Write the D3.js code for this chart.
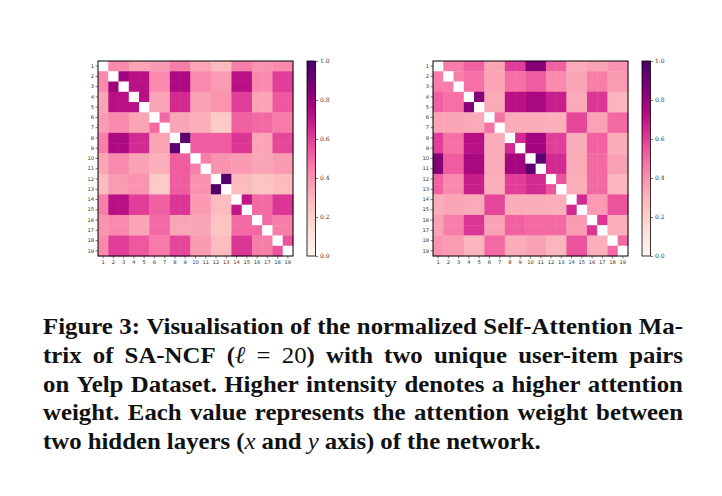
<!DOCTYPE html>
<html>
<head>
<meta charset="utf-8">
<script src="https://cdn.jsdelivr.net/npm/d3@7"></script>
<style>
  body { margin: 0; background: #fff; }
  svg { display: block; }
</style>
</head>
<body>
<svg id="chart" width="722" height="496"></svg>
<script>
// layer indices 1..19
var layers = d3.range(1, 20);

// attention weights, left pair (rows = y axis, cols = x axis)
var leftMatrix = [
  [0, .42,.42, .35,.35, .38,.38, .45,.45, .35,.35, .28,.28, .45,.45, .40,.40, .42,.42],
  [.42, 0,.78, .72,.72, .42,.42, .75,.75, .42,.42, .38,.38, .72,.72, .42,.42, .60,.60],
  [.42, .78,0, .72,.72, .42,.42, .75,.75, .42,.42, .38,.38, .72,.72, .42,.42, .60,.60],
  [.35, .72,.72, 0,.72, .35,.35, .65,.65, .36,.36, .40,.40, .60,.60, .35,.35, .54,.54],
  [.35, .72,.72, .72,0, .35,.35, .65,.65, .36,.36, .40,.40, .60,.60, .35,.35, .54,.54],
  [.38, .42,.42, .35,.35, 0,.50, .35,.35, .32,.32, .22,.22, .52,.52, .50,.50, .46,.46],
  [.38, .42,.42, .35,.35, .50,0, .35,.35, .32,.32, .22,.22, .52,.52, .50,.50, .46,.46],
  [.45, .75,.75, .65,.65, .35,.35, 0,.95, .53,.53, .53,.53, .62,.62, .35,.35, .58,.58],
  [.45, .75,.75, .65,.65, .35,.35, .95,0, .53,.53, .53,.53, .62,.62, .35,.35, .58,.58],
  [.35, .42,.42, .36,.36, .32,.32, .53,.53, 0,.45, .40,.40, .38,.38, .35,.35, .38,.38],
  [.35, .42,.42, .36,.36, .32,.32, .53,.53, .45,0, .40,.40, .38,.38, .35,.35, .38,.38],
  [.28, .38,.38, .40,.40, .22,.22, .53,.53, .40,.40, 0,.98, .28,.28, .25,.25, .28,.28],
  [.28, .38,.38, .40,.40, .22,.22, .53,.53, .40,.40, .98,0, .28,.28, .25,.25, .28,.28],
  [.45, .72,.72, .60,.60, .52,.52, .62,.62, .38,.38, .28,.28, 0,.70, .50,.50, .62,.62],
  [.45, .72,.72, .60,.60, .52,.52, .62,.62, .38,.38, .28,.28, .70,0, .50,.50, .62,.62],
  [.40, .42,.42, .35,.35, .50,.50, .35,.35, .35,.35, .25,.25, .50,.50, 0,.50, .45,.45],
  [.40, .42,.42, .35,.35, .50,.50, .35,.35, .35,.35, .25,.25, .50,.50, .50,0, .45,.45],
  [.42, .60,.60, .54,.54, .46,.46, .58,.58, .38,.38, .28,.28, .62,.62, .45,.45, 0,.55],
  [.42, .60,.60, .54,.54, .46,.46, .58,.58, .38,.38, .28,.28, .62,.62, .45,.45, .55,0]
];

// attention weights, right pair
var rightMatrix = [
  [0, .45,.45, .52,.52, .35,.35, .60,.60, .85,.85, .52,.52, .33,.33, .36,.36, .40,.40],
  [.45, 0,.45, .48,.48, .35,.35, .48,.48, .53,.53, .42,.42, .35,.35, .45,.45, .38,.38],
  [.45, .45,0, .48,.48, .35,.35, .48,.48, .53,.53, .42,.42, .35,.35, .45,.45, .38,.38],
  [.52, .48,.48, 0,.85, .34,.34, .72,.72, .76,.76, .68,.68, .34,.34, .62,.62, .30,.30],
  [.52, .48,.48, .85,0, .34,.34, .72,.72, .76,.76, .68,.68, .34,.34, .62,.62, .30,.30],
  [.35, .35,.35, .34,.34, 0,.48, .33,.33, .33,.33, .32,.32, .58,.58, .36,.36, .50,.50],
  [.35, .35,.35, .34,.34, .48,0, .33,.33, .33,.33, .32,.32, .58,.58, .36,.36, .50,.50],
  [.60, .48,.48, .72,.72, .33,.33, 0,.65, .77,.77, .60,.60, .33,.33, .52,.52, .33,.33],
  [.60, .48,.48, .72,.72, .33,.33, .65,0, .77,.77, .60,.60, .33,.33, .52,.52, .33,.33],
  [.85, .53,.53, .76,.76, .33,.33, .77,.77, 0,.95, .65,.65, .33,.33, .50,.50, .36,.36],
  [.85, .53,.53, .76,.76, .33,.33, .77,.77, .95,0, .65,.65, .33,.33, .50,.50, .36,.36],
  [.52, .42,.42, .68,.68, .32,.32, .60,.60, .65,.65, 0,.55, .32,.32, .50,.50, .30,.30],
  [.52, .42,.42, .68,.68, .32,.32, .60,.60, .65,.65, .55,0, .32,.32, .50,.50, .30,.30],
  [.33, .35,.35, .34,.34, .58,.58, .33,.33, .33,.33, .32,.32, 0,.65, .38,.38, .55,.55],
  [.33, .35,.35, .34,.34, .58,.58, .33,.33, .33,.33, .32,.32, .65,0, .38,.38, .55,.55],
  [.36, .45,.45, .62,.62, .36,.36, .52,.52, .50,.50, .50,.50, .38,.38, 0,.62, .32,.32],
  [.36, .45,.45, .62,.62, .36,.36, .52,.52, .50,.50, .50,.50, .38,.38, .62,0, .32,.32],
  [.40, .38,.38, .30,.30, .50,.50, .33,.33, .36,.36, .30,.30, .55,.55, .32,.32, 0,.50],
  [.40, .38,.38, .30,.30, .50,.50, .33,.33, .36,.36, .30,.30, .55,.55, .32,.32, .50,0]
];

var colorbarTicks = [0, 0.2, 0.4, 0.6, 0.8, 1.0];

// caption; [..] = math italic, {..} = math upright
var captionLines = [
  "Figure 3: Visualisation of the normalized Self-Attention Ma-",
  "trix of SA-NCF ([ℓ] {=} {20}) with two unique user-item pairs",
  "on Yelp Dataset. Higher intensity denotes a higher attention",
  "weight. Each value represents the attention weight between",
  "two hidden layers ([x] and [y] axis) of the network."
];

var svg = d3.select('#chart');
svg.append('rect').attr('width', 722).attr('height', 496).attr('fill', '#fff');

var color = d3.scaleSequential(d3.interpolateRdPu).domain([0, 1]);

function heatmap(data, left, top, size, cbLeft) {
  var g = svg.append('g');
  var x = d3.scaleBand().domain(layers).range([left, left + size]);
  var y = d3.scaleBand().domain(layers).range([top, top + size]);

  data.forEach(function(row, i) {
    g.selectAll(null)
      .data(row)
      .enter()
      .append('rect')
      .attr('x', function(d, j) { return x(layers[j]); })
      .attr('y', y(layers[i]))
      .attr('width', x.bandwidth() + 0.4)
      .attr('height', y.bandwidth() + 0.4)
      .attr('fill', function(d) { return d === 0 ? '#fff' : color(d); });
  });

  g.append('rect')
    .attr('x', left).attr('y', top)
    .attr('width', size).attr('height', size)
    .attr('fill', 'none').attr('stroke', '#000').attr('stroke-width', 1);

  var ax = g.append('g')
    .attr('transform', 'translate(0,' + (top + size) + ')')
    .call(d3.axisBottom(x).tickSize(2.5).tickPadding(1.5));
  var ay = g.append('g')
    .attr('transform', 'translate(' + left + ',0)')
    .call(d3.axisLeft(y).tickSize(2.5).tickPadding(1.5));
  [ax, ay].forEach(function(a) {
    a.select('.domain').remove();
    a.selectAll('line').attr('stroke', '#222').attr('stroke-width', 0.6);
    a.selectAll('text')
      .attr('font-family', 'DejaVu Sans')
      .attr('font-size', 5.2)
      .attr('fill', '#333');
  });

  // colorbar
  var cbW = 8.5;
  var gradId = 'grad' + cbLeft;
  var grad = svg.append('defs').append('linearGradient')
    .attr('id', gradId)
    .attr('x1', 0).attr('y1', 1).attr('x2', 0).attr('y2', 0);
  d3.range(0, 1.0001, 0.05).forEach(function(t) {
    grad.append('stop').attr('offset', t).attr('stop-color', color(t));
  });
  var cy = d3.scaleLinear().domain([0, 1]).range([top + size, top]);
  g.append('rect')
    .attr('x', cbLeft).attr('y', top)
    .attr('width', cbW).attr('height', size)
    .attr('fill', 'url(#' + gradId + ')')
    .attr('stroke', '#000').attr('stroke-width', 0.8);
  var ac = g.append('g')
    .attr('transform', 'translate(' + (cbLeft + cbW) + ',0)')
    .call(d3.axisRight(cy).tickValues(colorbarTicks).tickFormat(d3.format('.1f')).tickSize(2.5).tickPadding(2));
  ac.select('.domain').remove();
  ac.selectAll('line').attr('stroke', '#222').attr('stroke-width', 0.6);
  ac.selectAll('text')
    .attr('font-family', 'DejaVu Serif')
    .attr('font-size', 6)
    .attr('fill', '#333');
}

heatmap(leftMatrix, 98, 61, 195, 307);
heatmap(rightMatrix, 433, 61, 195, 642);

// caption, justified like the paper
var capLeft = 43, capRight = 683, capTop = 334, capStep = 28.8, capSize = 24, capStretch = 1.035;
var cap = svg.append('g')
  .attr('font-family', 'Liberation Serif')
  .attr('font-size', capSize)
  .attr('fill', '#111');

captionLines.forEach(function(line, li) {
  var words = line.split(' ');
  var nodes = words.map(function(w) {
    var wg = cap.append('g');
    var t = wg.append('text');
    w.split(/(\[[^\]]*\]|\{[^}]*\})/).forEach(function(seg) {
      if (!seg) return;
      var ts = t.append('tspan');
      if (seg[0] === '[') {
        ts.text(seg.slice(1, -1)).attr('font-style', 'italic').attr('font-weight', 'normal');
      } else if (seg[0] === '{') {
        ts.text(seg.slice(1, -1)).attr('font-weight', 'normal');
      } else {
        ts.text(seg).attr('font-weight', 'bold');
      }
    });
    return { g: wg, w: t.node().getComputedTextLength() * capStretch };
  });
  var total = d3.sum(nodes, function(n) { return n.w; });
  var last = li === captionLines.length - 1;
  var gap = last ? capSize * 0.25 : (capRight - capLeft - total) / (words.length - 1);
  var xPos = capLeft;
  nodes.forEach(function(n) {
    n.g.attr('transform', 'translate(' + xPos + ',' + (capTop + li * capStep) + ') scale(' + capStretch + ',1)');
    xPos += n.w + gap;
  });
});
</script>
</body>
</html>
